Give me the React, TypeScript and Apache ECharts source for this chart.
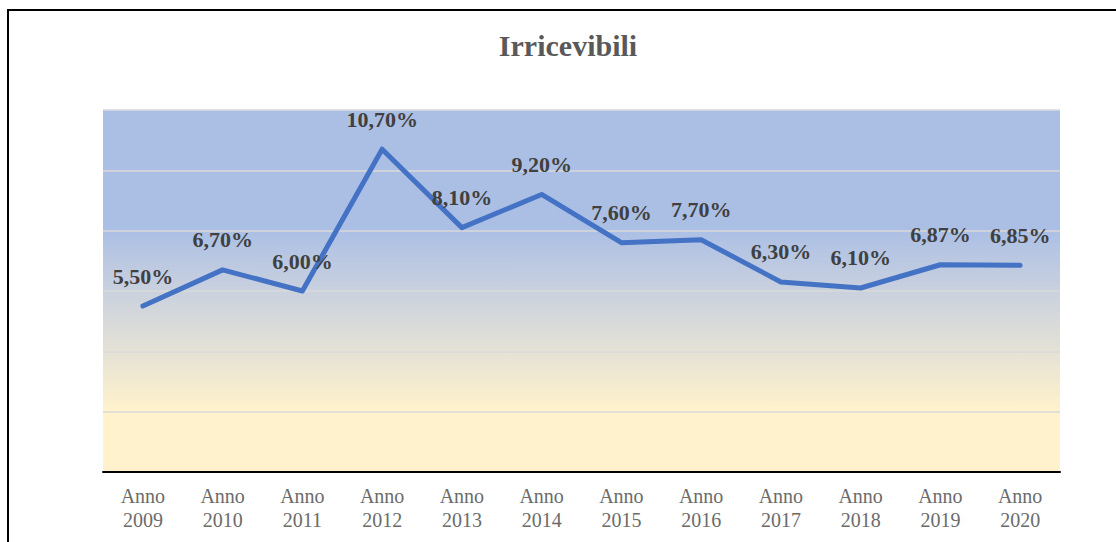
import React, { useEffect, useRef } from "react";
import * as echarts from "echarts";

const categories = [
  "Anno\n2009", "Anno\n2010", "Anno\n2011", "Anno\n2012", "Anno\n2013", "Anno\n2014",
  "Anno\n2015", "Anno\n2016", "Anno\n2017", "Anno\n2018", "Anno\n2019", "Anno\n2020",
];
const values = [5.5, 6.7, 6.0, 10.7, 8.1, 9.2, 7.6, 7.7, 6.3, 6.1, 6.87, 6.85];
const titleText = "Irricevibili";
const yMin = 0;
const yMax = 12;
const yInterval = 2;

const SERIF = "'Liberation Serif', 'DejaVu Serif', serif";

export default function App() {
  const ref = useRef<HTMLDivElement>(null);
  useEffect(() => {
    if (!ref.current) return;
    const chart = echarts.init(ref.current, undefined, { renderer: "svg" });
    chart.setOption({
      animation: false,
      backgroundColor: "#ffffff",
      graphic: [
        {
          type: "rect",
          shape: { x: 8, y: 10, width: 1300, height: 700 },
          style: { fill: "none", stroke: "#000000", lineWidth: 2 },
          silent: true,
        },
        {
          type: "text",
          x: 568,
          y: 45,
          style: {
            text: titleText,
            fill: "#595959",
            font: `bold 30px ${SERIF}`,
            textAlign: "center",
            textVerticalAlign: "middle",
          },
        },
      ],
      grid: {
        left: 103,
        right: 56,
        top: 110,
        bottom: 70,
        show: true,
        borderWidth: 0,
        backgroundColor: new echarts.graphic.LinearGradient(0, 0, 0, 1, [
          { offset: 0, color: "#abbfe5" },
          { offset: 0.33, color: "#abbfe5" },
          { offset: 0.55, color: "#d2d6dc" },
          { offset: 0.83, color: "#fff2cc" },
          { offset: 1, color: "#fff2cc" },
        ]),
      },
      xAxis: {
        type: "category",
        data: categories,
        boundaryGap: true,
        axisLine: { show: true, lineStyle: { color: "#000000", width: 2 } },
        axisTick: { show: false },
        axisLabel: {
          color: "#6b6b6b",
          fontFamily: SERIF,
          fontSize: 20,
          lineHeight: 24,
          margin: 12,
          interval: 0,
        },
      },
      yAxis: {
        type: "value",
        min: yMin,
        max: yMax,
        interval: yInterval,
        axisLine: { show: false },
        axisTick: { show: false },
        axisLabel: { show: false },
        splitLine: { show: true, lineStyle: { color: "#d9d9d9", width: 1.5 } },
      },
      series: [
        {
          type: "line",
          data: values,
          showSymbol: true,
          symbol: "circle",
          symbolSize: 2,
          itemStyle: { color: "rgba(68,114,196,0)", borderWidth: 0 },
          lineStyle: { color: "#4472c4", width: 5, cap: "round", join: "round" },
          label: {
            show: true,
            position: "top",
            distance: 18,
            color: "#404040",
            fontFamily: SERIF,
            fontWeight: "bold",
            fontSize: 22,
            formatter: (p: any) => p.value.toFixed(2).replace(".", ",") + "%",
          },
        },
      ],
    });
    return () => chart.dispose();
  }, []);
  return (
    <div
      ref={ref}
      style={{ position: "fixed", left: 0, top: 0, width: 1116, height: 542 }}
    />
  );
}
